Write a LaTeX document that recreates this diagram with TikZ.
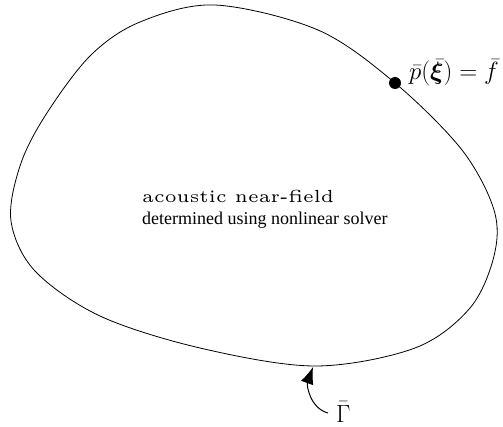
\documentclass[tikz,border=0pt]{standalone}
\usepackage{amsmath}
\usepackage{bm}
\usepackage{fontspec}
\newfontfamily\timesfont{Liberation Serif}
\newfontfamily\lmfive{lmroman5-regular.otf}
\usetikzlibrary{arrows.meta}
\tikzset{
  boundary/.style={draw=black, line width=0.8pt},
  lbl/.style={inner sep=0pt, anchor=base west},
  gamarrow/.style={line width=1pt, -{Latex[length=17pt,width=13pt]}}
}
\begin{document}
\begin{tikzpicture}[x=1pt,y=1pt]
\useasboundingbox (0,0) rectangle (503,426);
\draw[boundary] plot[smooth cycle, tension=0.55] coordinates {
(215,421) (318,396) (395,343) (462,276) (494,216) (494,170) (470,118) (415,78)
(315,60) (200,78) (100,110) (35,155) (11,205) (20,260) (45,310) (90,370) (140,404)};
\fill (395,343) circle (6);
\node[lbl] (plabel) at (409,346) {\fontsize{24}{28}\selectfont $\bar p(\bar{\bm\xi}) = \bar f$};
\node[lbl] (t1) at (142,223) {\fontsize{17.5}{24}\selectfont\lmfive acoustic near-field};
\node[lbl] (t2) at (142,201) {\fontsize{18}{24}\selectfont\timesfont determined using nonlinear solver};
\node[lbl] (gam) at (336,4) {\fontsize{23}{28}\selectfont $\bar\Gamma$};
\coordinate (gtail) at (328,13);
\coordinate (gtip) at (313,59);
\draw[gamarrow] (gtail) to[out=165,in=250] (gtip);
\end{tikzpicture}
\end{document}
